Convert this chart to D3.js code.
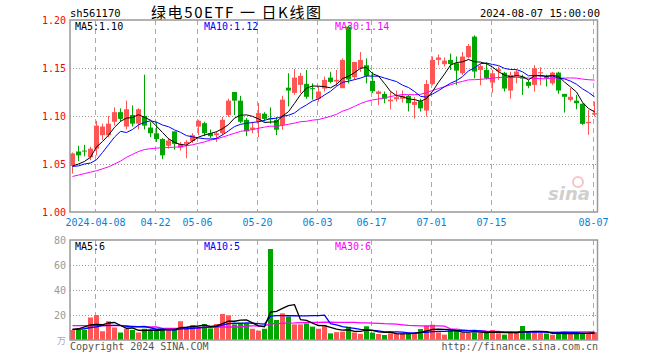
<!DOCTYPE html>
<html><head><meta charset="utf-8">
<script src="https://cdn.jsdelivr.net/npm/d3@7"></script>
<style>body{margin:0;background:#fff}svg{display:block}</style>
</head><body>
<svg id="c" width="660" height="360"></svg>
<script>
const dates = ["2024-03-29","2024-04-01","2024-04-02","2024-04-03",
"2024-04-08","2024-04-09","2024-04-10","2024-04-11","2024-04-12",
"2024-04-15","2024-04-16","2024-04-17","2024-04-18","2024-04-19",
"2024-04-22","2024-04-23","2024-04-24","2024-04-25","2024-04-26",
"2024-04-29","2024-04-30",
"2024-05-06","2024-05-07","2024-05-08","2024-05-09","2024-05-10",
"2024-05-13","2024-05-14","2024-05-15","2024-05-16","2024-05-17",
"2024-05-20","2024-05-21","2024-05-22","2024-05-23","2024-05-24",
"2024-05-27","2024-05-28","2024-05-29","2024-05-30","2024-05-31",
"2024-06-03","2024-06-04","2024-06-05","2024-06-06","2024-06-07",
"2024-06-11","2024-06-12","2024-06-13","2024-06-14",
"2024-06-17","2024-06-18","2024-06-19","2024-06-20","2024-06-21",
"2024-06-24","2024-06-25","2024-06-26","2024-06-27","2024-06-28",
"2024-07-01","2024-07-02","2024-07-03","2024-07-04","2024-07-05",
"2024-07-08","2024-07-09","2024-07-10","2024-07-11","2024-07-12",
"2024-07-15","2024-07-16","2024-07-17","2024-07-18","2024-07-19",
"2024-07-22","2024-07-23","2024-07-24","2024-07-25","2024-07-26",
"2024-07-29","2024-07-30","2024-07-31","2024-08-01","2024-08-02",
"2024-08-05","2024-08-06","2024-08-07"];

const open = [1.048,1.063,1.064,1.057,1.066,1.080,1.080,1.094,1.104,1.089,
1.101,1.092,1.100,1.088,1.082,1.076,1.069,1.084,1.067,1.071,
1.074,1.089,1.0925,1.082,1.080,1.082,1.101,1.125,1.116,1.096,
1.086,1.094,1.1024,1.0975,1.096,1.0904,1.1295,1.124,1.1324,1.1335,
1.129,1.118,1.1286,1.140,1.136,1.129,1.193,1.1404,1.1497,1.1529,
1.1366,1.123,1.123,1.1154,1.1175,1.118,1.121,1.1116,1.1154,1.1057,
1.1334,1.1584,1.154,1.1584,1.155,1.1445,1.1612,1.1827,1.148,1.148,
1.1348,1.1466,1.145,1.1265,1.141,1.141,1.1355,1.1324,1.1445,1.141,
1.134,1.1452,1.123,1.1168,1.116,1.1127,1.0925,1.1015];
const high = [1.062,1.069,1.070,1.068,1.095,1.092,1.100,1.109,1.108,1.116,
1.111,1.108,1.143,1.094,1.094,1.077,1.077,1.084,1.073,1.075,
1.082,1.096,1.094,1.086,1.084,1.099,1.118,1.125,1.121,1.098,
1.094,1.1135,1.104,1.109,1.099,1.121,1.1445,1.149,1.145,1.148,
1.134,1.131,1.141,1.146,1.148,1.160,1.194,1.1563,1.1667,1.160,
1.146,1.1265,1.1255,1.1255,1.1265,1.1265,1.122,1.1196,1.118,1.1376,
1.162,1.164,1.161,1.165,1.162,1.1667,1.175,1.184,1.154,1.156,
1.148,1.1515,1.146,1.146,1.148,1.143,1.1376,1.153,1.1508,1.143,
1.146,1.146,1.123,1.129,1.122,1.1133,1.1064,1.115];
const low = [1.040,1.053,1.058,1.054,1.059,1.075,1.078,1.090,1.094,1.086,
1.089,1.086,1.086,1.078,1.073,1.055,1.066,1.065,1.064,1.056,
1.072,1.080,1.079,1.077,1.073,1.080,1.099,1.101,1.0925,1.079,
1.082,1.078,1.094,1.092,1.080,1.0856,1.110,1.122,1.124,1.118,
1.117,1.115,1.1255,1.134,1.1307,1.129,1.134,1.1376,1.146,1.134,
1.124,1.1116,1.1133,1.107,1.115,1.114,1.1047,1.0974,1.1047,1.0995,
1.132,1.153,1.1515,1.148,1.1324,1.1428,1.160,1.1393,1.132,1.138,
1.1244,1.1376,1.1255,1.118,1.134,1.122,1.129,1.1255,1.132,1.1307,
1.1324,1.123,1.1036,1.115,1.107,1.0908,1.0804,1.0995];
const close = [1.061,1.059,1.063,1.066,1.090,1.089,1.092,1.104,1.097,1.107,
1.092,1.107,1.090,1.082,1.076,1.059,1.0745,1.071,1.071,1.073,
1.080,1.095,1.082,1.079,1.082,1.096,1.116,1.116,1.094,1.084,
1.088,1.103,1.097,1.0965,1.0857,1.117,1.1265,1.140,1.1418,1.120,
1.128,1.1255,1.1376,1.1355,1.1376,1.1584,1.138,1.1563,1.1584,1.1418,
1.1258,1.1255,1.118,1.117,1.1196,1.121,1.1133,1.1147,1.108,1.1334,
1.1584,1.161,1.1577,1.1542,1.1473,1.1619,1.173,1.1463,1.152,1.1393,
1.1445,1.1487,1.1286,1.1428,1.1463,1.139,1.1314,1.1497,1.1456,1.1397,
1.1452,1.1265,1.120,1.120,1.1133,1.0918,1.0939,1.103];
const volume = [8,8,8,18,20,7,15,10,6,9,
8,6,9,8,8,9,8,9,15,10,
12,10,12.8,9.3,12.8,20.8,19.7,12.5,13.9,13.3,
9,7.5,9,72.8,16,21.3,18.7,12.5,12.5,13.3,
10.7,9,12,5.3,6.3,6.7,10.6,6,4.9,11,
5.9,4.8,4,5.3,5.3,5.3,5.3,5.3,8.8,11.3,
12.2,6.1,4.3,8.0,7.5,5.9,5.9,5.9,5.9,5.9,
8,5.3,4.3,5.9,5.9,11.2,5.9,5.9,5.5,5.2,
4.2,5.8,5.0,5.2,5.0,5.6,6.2,6.3];

// moving-average values before enough history is shown
const ma5Head = [1.048,1.050,1.0527,1.057];
const ma10Head = [1.0475,1.048,1.050,1.051,1.0544,1.062,1.070,1.078,1.084];
const ma30Head = [1.037,1.0385,1.040,1.0415,1.043,1.045,1.047,1.050,1.053,1.057,
1.060,1.063,1.065,1.066,1.0665,1.067,1.0672,1.0675,1.068,1.069,
1.070,1.0715,1.073,1.075,1.076,1.078,1.080,1.082,1.084];
const vma5Head = [8.5,9,10.5,12];
const vma10Head = [8.5,8.5,9,10,10.5,11.5,11.7,11.7,11.7];
const vma30Head = [11.5,11.5,11.5,11.5,11.5,11.5,11.5,11.5,11.5,11.5,
10.4,10.4,10.4,10.4,10.4,9.3,9.3,9.3,9.3,9.3,
9.3,9.3,10.4,10.4,10.4,10.4,10.4,10.4,10.4];

const priceTicks = [1.00,1.05,1.10,1.15,1.20];
const volTicks = [20,40,60,80];
const dateTicks = ["2024-04-08","2024-04-22","2024-05-06","2024-05-20","2024-06-03","2024-06-17","2024-07-01","2024-07-15","2024-08-07"];

const RED = "#ff5555", GREEN = "#00a600";
const MONO = "'DejaVu Sans Mono', monospace";
const svg = d3.select("#c");

const L = 70, R = 597.5;
const x = d3.scaleBand().domain(dates).range([69.5, 597.5]).padding(0);
const cx = d => x(d) + x.bandwidth() / 2;
const y = d3.scaleLinear().domain([1.00, 1.20]).range([212, 20]);
const yv = d3.scaleLinear().domain([0, 80]).range([340, 240]);

function ma(arr, n, head) {
  return arr.map((_, i) => i < head.length ? head[i] : d3.mean(arr.slice(i - n + 1, i + 1)));
}
const m5 = ma(close, 5, ma5Head), m10 = ma(close, 10, ma10Head), m30 = ma(close, 30, ma30Head);
const v5 = ma(volume, 5, vma5Head), v10 = ma(volume, 10, vma10Head), v30 = ma(volume, 30, vma30Head);

// header
svg.append("text").attr("x", 70).attr("y", 17).attr("font-family", MONO).attr("font-size", 10.5).attr("fill", "#000").text("sh561170");
svg.append("text").attr("x", 151).attr("y", 18).attr("font-family", "'Noto Sans CJK SC', sans-serif").attr("font-size", 15)
  .attr("textLength", 170).attr("lengthAdjust", "spacing").attr("fill", "#000").text("绿电50ETF 一 日K线图");
svg.append("text").attr("x", 600).attr("y", 17).attr("text-anchor", "end").attr("font-family", MONO).attr("font-size", 10.5).attr("fill", "#000").text("2024-08-07 15:00:00");

// grids
const gx = d => Math.round(x(d)) + 1.5;
[[20, 212], [240, 340]].forEach(([t, b]) => {
  svg.append("g").selectAll("line").data(dateTicks).join("line")
    .attr("x1", gx).attr("x2", gx).attr("y1", t).attr("y2", b)
    .attr("stroke", "#aaa").attr("stroke-dasharray", "5,4");
});
svg.append("g").selectAll("line").data(priceTicks.slice(1, 4)).join("line")
  .attr("x1", L).attr("x2", R).attr("y1", d => Math.round(y(d)) + 0.5).attr("y2", d => Math.round(y(d)) + 0.5)
  .attr("stroke", "#999").attr("stroke-dasharray", "1,2");
svg.append("g").selectAll("line").data(volTicks.slice(0, 3)).join("line")
  .attr("x1", L).attr("x2", R).attr("y1", d => Math.round(yv(d)) + 0.5).attr("y2", d => Math.round(yv(d)) + 0.5)
  .attr("stroke", "#999").attr("stroke-dasharray", "1,2");

// sina watermark
const wm = svg.append("g").attr("opacity", 0.6);
wm.append("text").attr("x", 548).attr("y", 200).attr("font-family", "'DejaVu Sans', sans-serif").attr("font-style", "italic").attr("font-weight", "bold").attr("font-size", 18).attr("fill", "#b0b0b0").text("sina");
wm.append("circle").attr("cx", 578).attr("cy", 182).attr("r", 5).attr("fill", "none").attr("stroke", "#f0a0a0").attr("stroke-width", 2);

// axes labels
svg.append("g").selectAll("text").data(priceTicks).join("text")
  .attr("x", 66).attr("y", d => y(d)).attr("dy", "0.35em").attr("text-anchor", "end")
  .attr("font-family", MONO).attr("font-size", 10).attr("fill", "#f00").text(d => d.toFixed(2));
svg.append("g").selectAll("text").data(volTicks).join("text")
  .attr("x", 66).attr("y", d => yv(d)).attr("dy", "0.35em").attr("text-anchor", "end")
  .attr("font-family", MONO).attr("font-size", 10).attr("fill", "#999").text(d => d);
svg.append("text").attr("x", 66).attr("y", 344).attr("text-anchor", "end").attr("font-family", "'Noto Sans CJK SC', sans-serif").attr("font-size", 9).attr("fill", "#aaa").text("万");
svg.append("g").selectAll("text").data(dateTicks).join("text")
  .attr("x", d => gx(d)).attr("y", 226).attr("text-anchor", "middle")
  .attr("font-family", MONO).attr("font-size", 10).attr("fill", "#0a7fd4")
  .text((d, i) => i === 0 ? d : d.slice(5));

// candles
const idx = d3.range(dates.length);
const up = i => close[i] >= open[i];
svg.append("g").selectAll("line").data(idx).join("line")
  .attr("x1", i => cx(dates[i])).attr("x2", i => cx(dates[i]))
  .attr("y1", i => y(high[i])).attr("y2", i => y(low[i]))
  .attr("stroke", i => up(i) ? RED : GREEN).attr("stroke-width", 1);
svg.append("g").selectAll("rect").data(idx).join("rect")
  .attr("x", i => x(dates[i]) + 0.5).attr("width", 5)
  .attr("y", i => y(Math.max(open[i], close[i])))
  .attr("height", i => Math.max(1, Math.abs(y(open[i]) - y(close[i]))))
  .attr("fill", i => up(i) ? RED : GREEN);

// volume bars
svg.append("g").selectAll("rect").data(idx).join("rect")
  .attr("x", i => x(dates[i]) + 0.5).attr("width", 5)
  .attr("y", i => yv(volume[i])).attr("height", i => yv(0) - yv(volume[i]))
  .attr("fill", i => up(i) ? RED : GREEN);

// MA lines
const line = (sc, arr) => d3.line().x((_, i) => cx(dates[i])).y(v => sc(v))(arr);
[[m30, "#ff00ff"], [m10, "#0000ff"], [m5, "#000"]].forEach(([a, c]) =>
  svg.append("path").attr("d", line(y, a)).attr("fill", "none").attr("stroke", c).attr("stroke-width", 1));
[[v30, "#ff00ff"], [v10, "#0000ff"], [v5, "#000"]].forEach(([a, c]) =>
  svg.append("path").attr("d", line(yv, a)).attr("fill", "none").attr("stroke", c).attr("stroke-width", 1.3));

// frames
svg.append("rect").attr("x", L).attr("y", 20).attr("width", R - L).attr("height", 192).attr("fill", "none").attr("stroke", "#999").attr("stroke-width", 1.5);
svg.append("rect").attr("x", L).attr("y", 240).attr("width", R - L).attr("height", 100).attr("fill", "none").attr("stroke", "#999").attr("stroke-width", 1.5);

// MA legends
const leg = (yy, items) => items.forEach(([xx, c, t]) =>
  svg.append("text").attr("x", xx).attr("y", yy).attr("font-family", MONO).attr("font-size", 10).attr("fill", c).text(t));
const f2 = a => a[a.length - 1].toFixed(2), f0 = a => Math.round(a[a.length - 1]);
leg(30, [[75, "#000", "MA5:" + f2(m5)], [204, "#0000ff", "MA10:" + f2(m10)], [335, "#ff00ff", "MA30:" + f2(m30)]]);
leg(250, [[75, "#000", "MA5:" + f0(v5)], [204, "#0000ff", "MA10:" + f0(v10)], [335, "#ff00ff", "MA30:" + f0(v30)]]);

// footer
svg.append("text").attr("x", 70).attr("y", 350).attr("font-family", MONO).attr("font-size", 10).attr("fill", "#555").text("Copyright 2024 SINA.COM");
svg.append("text").attr("x", 598).attr("y", 350).attr("text-anchor", "end").attr("font-family", MONO).attr("font-size", 10).attr("fill", "#555").text("http://finance.sina.com.cn");
</script>
</body></html>
